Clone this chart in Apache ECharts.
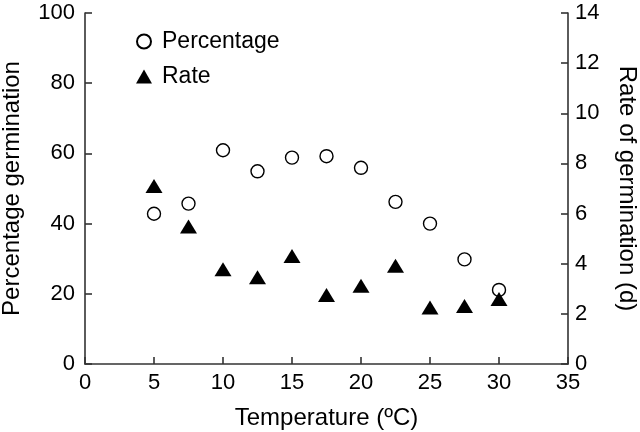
<!DOCTYPE html>
<html><head><meta charset="utf-8">
<script src="https://cdn.jsdelivr.net/npm/echarts@6/dist/echarts.min.js"></script>
<style>html,body{margin:0;padding:0;background:#fff}#c{width:640px;height:432px}</style>
</head><body><div id="c"></div>
<script>
var temperatures = [5, 7.5, 10, 12.5, 15, 17.5, 20, 22.5, 25, 27.5, 30];
var percentage = [42.8, 45.7, 60.9, 54.9, 58.8, 59.2, 55.9, 46.2, 40.0, 29.8, 21.1];
var rate = [7.1, 5.48, 3.78, 3.46, 4.31, 2.75, 3.12, 3.92, 2.25, 2.31, 2.59];
var xTicks = [0, 5, 10, 15, 20, 25, 30, 35];
var leftTicks = [0, 20, 40, 60, 80, 100];
var rightTicks = [0, 2, 4, 6, 8, 10, 12, 14];

var font = 'Liberation Sans, Arial, sans-serif';
var axisCol = '#333';
var tickSize = 22, nameSize = 24, legendSize = 23;
function pairs(xs, ys){ return xs.map(function(x,i){return [x, ys[i]];}); }

var chart = echarts.init(document.getElementById('c'), null, {renderer:'canvas'});
chart.setOption({
  animation:false,
  backgroundColor:'#fff',
  grid:{left:85, right:72, top:13, bottom:68, containLabel:false, outerBoundsMode:'none'},
  legend:{
    orient:'vertical', left:131, top:25, itemWidth:16, itemHeight:14, itemGap:12,
    textStyle:{fontFamily:font, fontSize:legendSize, color:'#000', padding:[0,0,0,5]},
    data:['Percentage','Rate']
  },
  xAxis:{
    type:'value', min:xTicks[0], max:xTicks[xTicks.length-1], interval:5,
    name:'Temperature (ºC)', nameLocation:'middle', nameGap:42,
    nameTextStyle:{fontFamily:font, fontSize:nameSize, color:'#000'},
    axisLine:{show:true, onZero:false, lineStyle:{color:axisCol, width:1.6}},
    axisTick:{show:true, inside:true, length:7, lineStyle:{color:axisCol, width:1.6}},
    axisLabel:{fontFamily:font, fontSize:tickSize, color:'#000', margin:8},
    splitLine:{show:false}
  },
  yAxis:[{
    type:'value', min:leftTicks[0], max:leftTicks[leftTicks.length-1], interval:20,
    name:'Percentage germination', nameLocation:'middle', nameGap:61,
    nameTextStyle:{fontFamily:font, fontSize:nameSize, color:'#000'},
    axisLine:{show:true, onZero:false, lineStyle:{color:axisCol, width:1.6}},
    axisTick:{show:true, inside:true, length:7, lineStyle:{color:axisCol, width:1.6}},
    axisLabel:{fontFamily:font, fontSize:tickSize, color:'#000', margin:10},
    splitLine:{show:false}
  },{
    type:'value', min:rightTicks[0], max:rightTicks[rightTicks.length-1], interval:2,
    position:'right',
    name:'Rate of germination (d)', nameLocation:'middle', nameGap:47, nameRotate:-90,
    nameTextStyle:{fontFamily:font, fontSize:nameSize, color:'#000'},
    axisLine:{show:true, onZero:false, lineStyle:{color:axisCol, width:1.6}},
    axisTick:{show:true, inside:true, length:7, lineStyle:{color:axisCol, width:1.6}},
    axisLabel:{fontFamily:font, fontSize:tickSize, color:'#000', margin:7},
    splitLine:{show:false}
  }],
  series:[{
    name:'Percentage', type:'scatter', yAxisIndex:0, symbol:'circle', symbolSize:13,
    itemStyle:{color:'#fff', borderColor:'#000', borderWidth:1.4, opacity:1},
    data:pairs(temperatures, percentage), z:2
  },{
    name:'Rate', type:'scatter', yAxisIndex:1, symbol:'triangle', symbolSize:[17,14],
    itemStyle:{color:'#000', opacity:1},
    data:pairs(temperatures, rate), z:3
  }]
});
</script></body></html>
